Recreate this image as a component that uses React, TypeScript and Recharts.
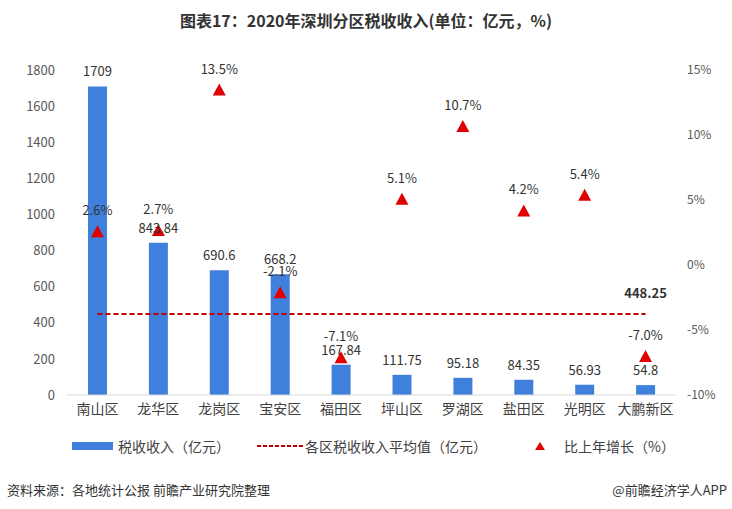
import React from "react";
import { ComposedChart, Bar, Line, XAxis, YAxis, LabelList } from "recharts";

const districts = ["南山区", "龙华区", "龙岗区", "宝安区", "福田区", "坪山区", "罗湖区", "盐田区", "光明区", "大鹏新区"];
const taxRevenue = [1709, 843.84, 690.6, 668.2, 167.84, 111.75, 95.18, 84.35, 56.93, 54.8];
const growth = [2.6, 2.7, 13.5, -2.1, -7.1, 5.1, 10.7, 4.2, 5.4, -7.0];
const averageValue = 448.25;
const leftTicks = [0, 200, 400, 600, 800, 1000, 1200, 1400, 1600, 1800];
const rightTicks = [-10, -5, 0, 5, 10, 15];

const data = districts.map((name, i) => ({
  name,
  tax: taxRevenue[i],
  growth: growth[i],
  avg: averageValue,
}));

const FONT = "'Noto Sans CJK SC', 'DejaVu Sans', sans-serif";
const BLUE = "#3F80DC";
const RED = "#E00000";
const DASH_RED = "#C00000";

const Triangle = (props: any) => {
  const { cx, cy } = props;
  if (cx == null || cy == null) return null;
  const w = 13;
  const h = 12;
  return (
    <path
      d={`M${cx},${cy - h / 2} L${cx + w / 2},${cy + h / 2} L${cx - w / 2},${cy + h / 2} Z`}
      fill={RED}
    />
  );
};

const AvgLabel = (props: any) => {
  const { x, y, index } = props;
  if (index !== districts.length - 1) return null;
  return (
    <text x={x} y={y - 16} textAnchor="middle" fontSize={13} fontWeight="bold" fill="#333" fontFamily={FONT}>
      {averageValue}
    </text>
  );
};

const legendText: React.CSSProperties = {
  position: "absolute",
  top: 437,
  fontSize: 14,
  lineHeight: "18px",
  color: "#404040",
  whiteSpace: "nowrap",
};

export default function App() {
  return (
    <div style={{ position: "absolute", left: 0, top: 0, width: 732, height: 509, background: "#fff", fontFamily: FONT }}>
      <div style={{ position: "absolute", top: 9, left: 0, width: 732, textAlign: "center", fontSize: 16, lineHeight: "22px", fontWeight: "bold", color: "#333" }}>
        图表17：2020年深圳分区税收收入(单位：亿元，%)
      </div>
      <div style={{ position: "absolute", left: 0, top: 0 }}>
        <ComposedChart
          width={732}
          height={509}
          data={data}
          margin={{ top: 70, right: 0, bottom: 84, left: 0 }}
        >
          <XAxis
            dataKey="name"
            axisLine={{ stroke: "#D9D9D9" }}
            tickLine={false}
            height={30}
            tick={{ fontSize: 14, fill: "#404040", fontFamily: FONT }}
            tickMargin={3}
            interval={0}
          />
          <YAxis
            yAxisId="left"
            domain={[0, 1800]}
            ticks={leftTicks}
            width={67}
            axisLine={false}
            tickLine={false}
            tickMargin={6}
            tick={{ fontSize: 13, fill: "#595959", fontFamily: FONT }}
          />
          <YAxis
            yAxisId="right"
            orientation="right"
            domain={[-10, 15]}
            ticks={rightTicks}
            width={56}
            axisLine={false}
            tickLine={false}
            tickMargin={5}
            tickFormatter={(v: number) => `${v}%`}
            tick={{ fontSize: 12, fill: "#595959", fontFamily: FONT, textAnchor: "start" }}
          />
          <Bar yAxisId="left" dataKey="tax" fill={BLUE} barSize={19} isAnimationActive={false}>
            <LabelList dataKey="tax" position="top" offset={10} style={{ fontSize: 13, fill: "#333", fontFamily: FONT }} />
          </Bar>
          <Line
            yAxisId="left"
            dataKey="avg"
            stroke={DASH_RED}
            strokeWidth={2}
            strokeDasharray="5 3"
            dot={false}
            activeDot={false}
            isAnimationActive={false}
          >
            <LabelList dataKey="avg" content={<AvgLabel />} />
          </Line>
          <Line
            yAxisId="right"
            dataKey="growth"
            stroke="none"
            dot={<Triangle />}
            activeDot={false}
            isAnimationActive={false}
          >
            <LabelList
              dataKey="growth"
              position="top"
              offset={16}
              formatter={(v: number) => `${v.toFixed(1)}%`}
              style={{ fontSize: 13, fill: "#333", fontFamily: FONT }}
            />
          </Line>
        </ComposedChart>
      </div>
      <span style={{ position: "absolute", left: 72, top: 442, width: 41, height: 8, background: BLUE }} />
      <span style={{ ...legendText, left: 118 }}>税收收入（亿元）</span>
      <svg width={47} height={10} style={{ position: "absolute", left: 257, top: 441 }}>
        <line x1={0} y1={5} x2={46} y2={5} stroke={DASH_RED} strokeWidth={2} strokeDasharray="4 2" />
      </svg>
      <span style={{ ...legendText, left: 305 }}>各区税收收入平均值（亿元）</span>
      <svg width={12} height={10} style={{ position: "absolute", left: 534, top: 441 }}>
        <path d="M6,1 L11,9 L1,9 Z" fill={RED} />
      </svg>
      <span style={{ ...legendText, left: 564 }}>比上年增长（%）</span>
      <div style={{ position: "absolute", top: 481, left: 7, fontSize: 13, lineHeight: "18px", color: "#333" }}>
        资料来源：各地统计公报 前瞻产业研究院整理
      </div>
      <div style={{ position: "absolute", top: 481, right: 5, fontSize: 13, lineHeight: "18px", color: "#333" }}>
        @前瞻经济学人APP
      </div>
    </div>
  );
}
